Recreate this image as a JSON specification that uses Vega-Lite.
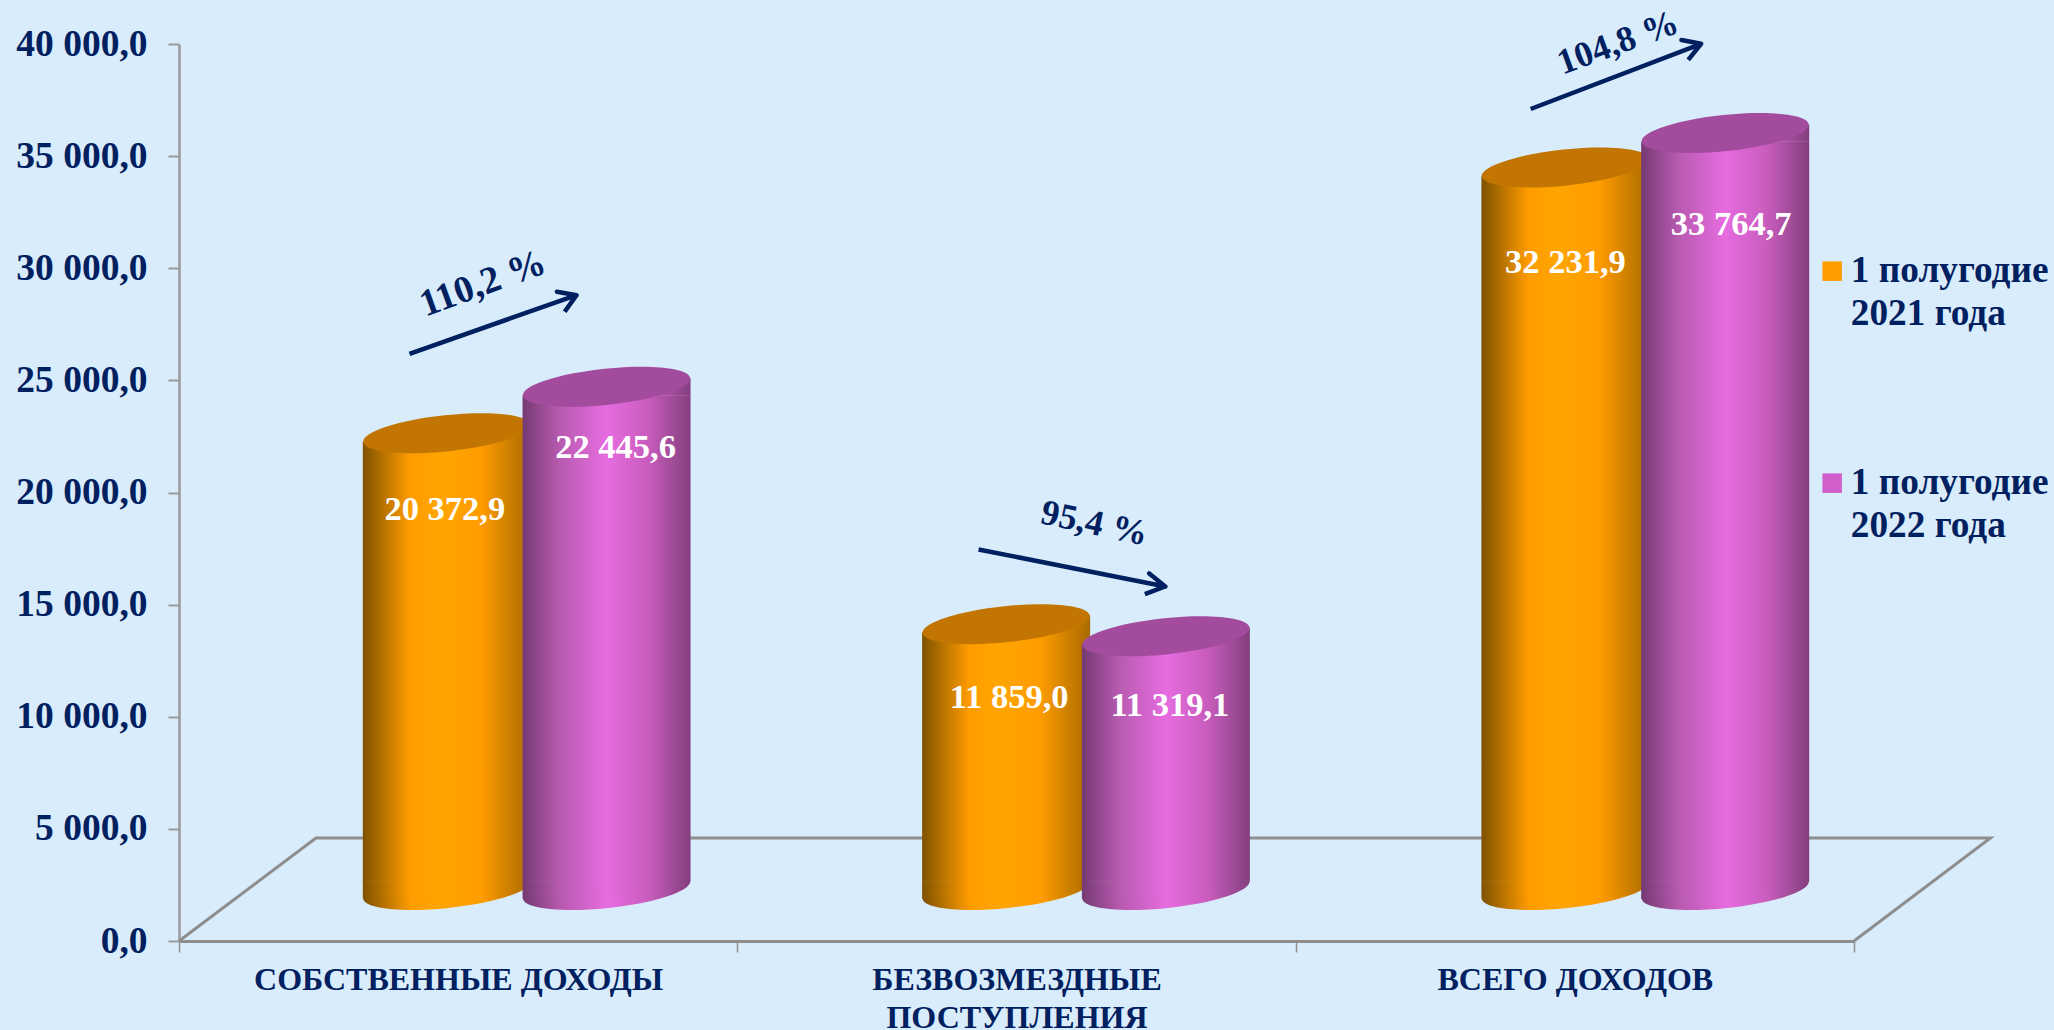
{
"$schema":"https://vega.github.io/schema/vega-lite/v6.json",
"autosize":{"type":"none"},
"width":1675,"height":897,
"padding":{"left":179,"top":44,"right":200,"bottom":89},
"background":"#d9ecfc",
"config":{"view":{"stroke":null},"locale":{"number":{"decimal":",","thousands":" ","grouping":[3],"currency":["",""]}},"font":"Liberation Serif"},
"datasets":{"rows":[
{"category":"СОБСТВЕННЫЕ ДОХОДЫ","series":"1 полугодие 2021 года","value":20372.9},
{"category":"СОБСТВЕННЫЕ ДОХОДЫ","series":"1 полугодие 2022 года","value":22445.6},
{"category":"БЕЗВОЗМЕЗДНЫЕ ПОСТУПЛЕНИЯ","series":"1 полугодие 2021 года","value":11859.0},
{"category":"БЕЗВОЗМЕЗДНЫЕ ПОСТУПЛЕНИЯ","series":"1 полугодие 2022 года","value":11319.1},
{"category":"ВСЕГО ДОХОДОВ","series":"1 полугодие 2021 года","value":32231.9},
{"category":"ВСЕГО ДОХОДОВ","series":"1 полугодие 2022 года","value":33764.7}
],
"floor":[{"u":0,"v":0,"i":0},{"u":0.2453,"v":4594,"i":1},{"u":3.2444,"v":4594,"i":2},{"u":3,"v":0,"i":3}],
"arrows":[
{"arrow":"a","i":0,"u":0.4128,"v":26186},{"arrow":"a","i":1,"u":0.7120,"v":28800},{"arrow":"a","i":2,"u":0.6769,"v":28952},{"arrow":"a","i":3,"u":0.7120,"v":28800},{"arrow":"a","i":4,"u":0.6907,"v":28060},
{"arrow":"b","i":0,"u":1.4321,"v":17460},{"arrow":"b","i":1,"u":1.7665,"v":15810},{"arrow":"b","i":2,"u":1.7377,"v":16390},{"arrow":"b","i":3,"u":1.7665,"v":15810},{"arrow":"b","i":4,"u":1.7299,"v":15466},
{"arrow":"c","i":0,"u":2.4209,"v":37102},{"arrow":"c","i":1,"u":2.7262,"v":40010},{"arrow":"c","i":2,"u":2.6909,"v":40180},{"arrow":"c","i":3,"u":2.7262,"v":40010},{"arrow":"c","i":4,"u":2.7031,"v":39288}
],
"pct":[{"t":"110,2 %","u":0.5444,"v":29300},{"t":"95,4 %","u":1.6395,"v":18616},{"t":"104,8 %","u":2.577,"v":40050}]
},
"layer":[
{"data":{"name":"rows"},
 "mark":{"type":"point","filled":true,"opacity":0,"size":1},
 "encoding":{
  "x":{"field":"category","type":"nominal","sort":null,"scale":{"paddingInner":0,"paddingOuter":0,"type":"band"},
   "axis":{"title":null,"labelAngle":0,"labelFont":"Liberation Serif","labelFontWeight":"bold","labelFontSize":32,"labelColor":"#002060","labelLimit":0,"labelPadding":12,"labelLineHeight":38,"labelBaseline":"top",
    "labelExpr":"datum.label == 'БЕЗВОЗМЕЗДНЫЕ ПОСТУПЛЕНИЯ' ? ['БЕЗВОЗМЕЗДНЫЕ','ПОСТУПЛЕНИЯ'] : datum.label",
    "tickBand":"extent","tickSize":11,"tickColor":"#8e8e8e","tickWidth":1.5,"domainColor":"#8e8e8e","domainWidth":3,"grid":false}},
  "y":{"field":"value","type":"quantitative","scale":{"domain":[0,40000],"nice":false},
   "axis":{"title":null,"values":[0,5000,10000,15000,20000,25000,30000,35000,40000],"format":",.1f","labelFont":"Liberation Serif","labelFontWeight":"bold","labelFontSize":37.5,"labelColor":"#002060","labelPadding":21,"labelLimit":0,"tickSize":11,"tickColor":"#9a9a9a","tickWidth":2,"domainColor":"#9a9a9a","domainWidth":2.5,"grid":false}},
  "color":{"field":"series","type":"nominal","sort":null,"scale":{"range":["#ff9c00","#d05fcc"]},
   "legend":{"title":null,"orient":"none","legendX":1634.5,"legendY":208.5,"symbolType":"square","symbolSize":380,"symbolOpacity":1,"symbolStrokeWidth":0,"labelFont":"Liberation Serif","labelFontWeight":"bold","labelFontSize":37.3,"labelColor":"#002060","labelLimit":0,"labelOffset":0,"rowPadding":131,"labelExpr":"[slice(datum.label,0,11), slice(datum.label,12)]","encode":{"labels":{"update":{"lineHeight":{"value":43}}}}}}
 }},
{"data":{"name":"floor"},
 "mark":{"type":"line","color":"#8e8e8e","strokeWidth":3,"clip":false},
 "encoding":{
  "x":{"field":"u","type":"quantitative","scale":{"domain":[0,3],"nice":false,"zero":false},"axis":null},
  "y":{"field":"v","type":"quantitative","scale":{"domain":[0,40000],"nice":false},"axis":null},
  "order":{"field":"i"}
 }},
{"data":{"name":"rows"},
 "encoding":{
  "x":{"field":"category","type":"nominal","sort":null,"axis":null,"scale":{"type":"band","range":[68,1746],"paddingInner":0.4287,"paddingOuter":0.2144}},
  "xOffset":{"field":"series","type":"nominal","sort":null,"scale":{"paddingInner":0,"paddingOuter":0}},
  "y":{"field":"value","type":"quantitative","axis":null,"scale":{"domain":[0,40000],"nice":false,"range":[846,-50.7]}}
 },
 "layer":[
 {"transform":[{"filter":"datum.series == '1 полугодие 2021 года'"}],
  "layer":[
  {"mark":{"type":"point","filled":true,"opacity":1,"size":28224,"angle":-6,"shape":"M-1,0A1,0.215 0 1,1 1,0A1,0.215 0 1,1 -1,0Z","fill":{"gradient":"linear","x1":0,"x2":1,"y1":0,"y2":0,"stops":[{"offset":0,"color":"#7f5200"},{"offset":0.28,"color":"#ff9c00"},{"offset":0.45,"color":"#ffa500"},{"offset":0.7,"color":"#ff9c00"},{"offset":1,"color":"#a86a00"}]}},
   "encoding":{"y":{"datum":0,"type":"quantitative"}}},
  {"mark":{"type":"point","filled":true,"opacity":1,"size":28224,"shape":"M-1,-0.1045L-1,0.1045L1,-0.1045Z","fill":{"gradient":"linear","x1":0,"x2":1,"y1":0,"y2":0,"stops":[{"offset":0,"color":"#7f5200"},{"offset":0.28,"color":"#ff9c00"},{"offset":0.45,"color":"#ffa500"},{"offset":0.7,"color":"#ff9c00"},{"offset":1,"color":"#a86a00"}]}},
   "encoding":{"y":{"datum":0,"type":"quantitative"}}},
  {"mark":{"type":"bar","width":168,"yOffset":8.3,"y2Offset":-8.3,"fill":{"gradient":"linear","x1":0,"x2":1,"y1":0,"y2":0,"stops":[{"offset":0,"color":"#7f5200"},{"offset":0.28,"color":"#ff9c00"},{"offset":0.45,"color":"#ffa500"},{"offset":0.7,"color":"#ff9c00"},{"offset":1,"color":"#a86a00"}]}},
   "encoding":{"y2":{"datum":0}}},
  {"mark":{"type":"point","filled":true,"opacity":1,"size":28224,"shape":"M-1,0.1045L1,-0.1045L1,0.1045Z","fill":{"gradient":"linear","x1":0,"x2":1,"y1":0,"y2":0,"stops":[{"offset":0,"color":"#7f5200"},{"offset":0.28,"color":"#ff9c00"},{"offset":0.45,"color":"#ffa500"},{"offset":0.7,"color":"#ff9c00"},{"offset":1,"color":"#a86a00"}]}}},
  {"mark":{"type":"point","filled":true,"opacity":1,"size":28224,"angle":-6,"shape":"M-1,0A1,0.215 0 1,1 1,0A1,0.215 0 1,1 -1,0Z","fill":"#c27500"}}
  ]},
 {"transform":[{"filter":"datum.series == '1 полугодие 2022 года'"}],
  "layer":[
  {"mark":{"type":"point","filled":true,"opacity":1,"size":28224,"angle":-6,"shape":"M-1,0A1,0.215 0 1,1 1,0A1,0.215 0 1,1 -1,0Z","fill":{"gradient":"linear","x1":0,"x2":1,"y1":0,"y2":0,"stops":[{"offset":0,"color":"#743a72"},{"offset":0.22,"color":"#b85ab0"},{"offset":0.5,"color":"#e66ce0"},{"offset":0.75,"color":"#c85cbc"},{"offset":1,"color":"#833f7e"}]}},
   "encoding":{"y":{"datum":0,"type":"quantitative"}}},
  {"mark":{"type":"point","filled":true,"opacity":1,"size":28224,"shape":"M-1,-0.1045L-1,0.1045L1,-0.1045Z","fill":{"gradient":"linear","x1":0,"x2":1,"y1":0,"y2":0,"stops":[{"offset":0,"color":"#743a72"},{"offset":0.22,"color":"#b85ab0"},{"offset":0.5,"color":"#e66ce0"},{"offset":0.75,"color":"#c85cbc"},{"offset":1,"color":"#833f7e"}]}},
   "encoding":{"y":{"datum":0,"type":"quantitative"}}},
  {"mark":{"type":"bar","width":168,"yOffset":8.3,"y2Offset":-8.3,"fill":{"gradient":"linear","x1":0,"x2":1,"y1":0,"y2":0,"stops":[{"offset":0,"color":"#743a72"},{"offset":0.22,"color":"#b85ab0"},{"offset":0.5,"color":"#e66ce0"},{"offset":0.75,"color":"#c85cbc"},{"offset":1,"color":"#833f7e"}]}},
   "encoding":{"y2":{"datum":0}}},
  {"mark":{"type":"point","filled":true,"opacity":1,"size":28224,"shape":"M-1,0.1045L1,-0.1045L1,0.1045Z","fill":{"gradient":"linear","x1":0,"x2":1,"y1":0,"y2":0,"stops":[{"offset":0,"color":"#743a72"},{"offset":0.22,"color":"#b85ab0"},{"offset":0.5,"color":"#e66ce0"},{"offset":0.75,"color":"#c85cbc"},{"offset":1,"color":"#833f7e"}]}}},
  {"mark":{"type":"point","filled":true,"opacity":1,"size":28224,"angle":-6,"shape":"M-1,0A1,0.215 0 1,1 1,0A1,0.215 0 1,1 -1,0Z","fill":"#a34b9d"}}
  ]},
 {"transform":[{"filter":"datum.value == 20372.9"}],"mark":{"type":"text","font":"Liberation Serif","fontWeight":"bold","fontSize":34.5,"fill":"white","dx":-2,"dy":77},"encoding":{"text":{"field":"value","type":"quantitative","format":",.1f"}}},
 {"transform":[{"filter":"datum.value == 22445.6"}],"mark":{"type":"text","font":"Liberation Serif","fontWeight":"bold","fontSize":34.5,"fill":"white","dx":9,"dy":61},"encoding":{"text":{"field":"value","type":"quantitative","format":",.1f"}}},
 {"transform":[{"filter":"datum.value == 11859"}],"mark":{"type":"text","font":"Liberation Serif","fontWeight":"bold","fontSize":34.5,"fill":"white","dx":3,"dy":74},"encoding":{"text":{"field":"value","type":"quantitative","format":",.1f"}}},
 {"transform":[{"filter":"datum.value == 11319.1"}],"mark":{"type":"text","font":"Liberation Serif","fontWeight":"bold","fontSize":34.5,"fill":"white","dx":4,"dy":70},"encoding":{"text":{"field":"value","type":"quantitative","format":",.1f"}}},
 {"transform":[{"filter":"datum.value == 32231.9"}],"mark":{"type":"text","font":"Liberation Serif","fontWeight":"bold","fontSize":34.5,"fill":"white","dx":0,"dy":96},"encoding":{"text":{"field":"value","type":"quantitative","format":",.1f"}}},
 {"transform":[{"filter":"datum.value == 33764.7"}],"mark":{"type":"text","font":"Liberation Serif","fontWeight":"bold","fontSize":34.5,"fill":"white","dx":6,"dy":92},"encoding":{"text":{"field":"value","type":"quantitative","format":",.1f"}}}
 ]},
{"data":{"name":"arrows"},
 "mark":{"type":"line","color":"#002060","strokeWidth":4.5,"strokeJoin":"round","clip":false},
 "encoding":{
  "x":{"field":"u","type":"quantitative","scale":{"domain":[0,3],"nice":false,"zero":false},"axis":null},
  "y":{"field":"v","type":"quantitative","scale":{"domain":[0,40000],"nice":false},"axis":null},
  "detail":{"field":"arrow"},
  "order":{"field":"i"}
 }},
{"data":{"name":"pct"},
 "encoding":{
  "x":{"field":"u","type":"quantitative","scale":{"domain":[0,3],"nice":false,"zero":false},"axis":null},
  "y":{"field":"v","type":"quantitative","scale":{"domain":[0,40000],"nice":false},"axis":null},
  "text":{"field":"t"}
 },
 "layer":[
  {"transform":[{"filter":"datum.t == '110,2 %'"}],"mark":{"type":"text","font":"Liberation Serif","fontWeight":"bold","fontSize":38,"fill":"#002060","angle":-20}},
  {"transform":[{"filter":"datum.t == '95,4 %'"}],"mark":{"type":"text","font":"Liberation Serif","fontWeight":"bold","fontSize":36,"fill":"#002060","angle":12}},
  {"transform":[{"filter":"datum.t == '104,8 %'"}],"mark":{"type":"text","font":"Liberation Serif","fontWeight":"bold","fontSize":36,"fill":"#002060","angle":-20}}
 ]}
],
"resolve":{"scale":{"x":"independent","y":"independent","xOffset":"independent"}}
}
